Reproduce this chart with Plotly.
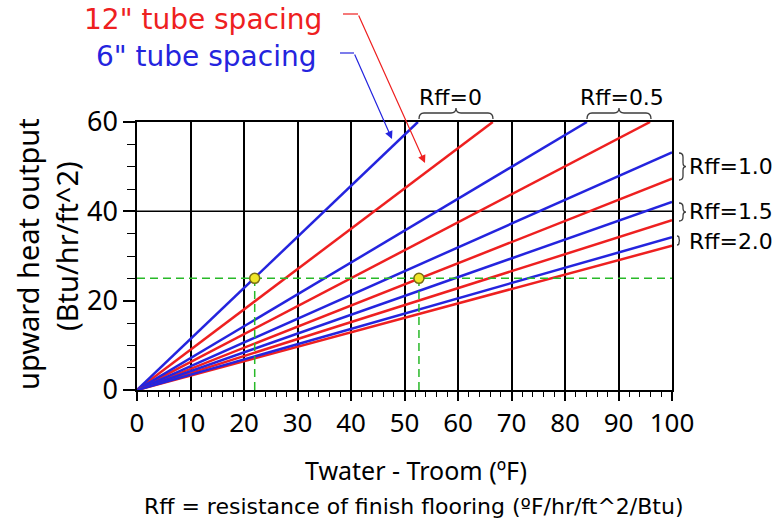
import plotly.graph_objects as go

# ---------------- data ----------------
rff_labels = ["0", "0.5", "1.0", "1.5", "2.0"]
# 6" tube spacing (blue): dT (F) and upward heat output (Btu/hr/ft^2)
dT_6in = [[0, 52.5], [0, 84.1], [0, 100], [0, 100], [0, 100]]
q_6in = [[0, 60], [0, 60], [0, 53.2], [0, 42.1], [0, 34.2]]
# 12" tube spacing (red)
dT_12in = [[0, 66.5], [0, 95.9], [0, 100], [0, 100], [0, 100]]
q_12in = [[0, 60], [0, 60], [0, 47.3], [0, 38.0], [0, 32.3]]
# worked examples (yellow dots)
ex_dT = [22, 52.7]
ex_q = [25, 25]
x_ticks = [0, 10, 20, 30, 40, 50, 60, 70, 80, 90, 100]
y_ticks = [0, 20, 40, 60]

# ---------------- style ----------------
FONT = "Noto Sans"
FONT2 = "DejaVu Sans"
RED = "rgb(238,32,32)"
BLUE = "rgb(36,36,222)"
GREEN = "rgb(40,185,40)"
L, R, T, B = 137, 100, 122, 134
W, H = 772, 524
PW, PH = W - L - R, H - T - B


def pp(xp, yp):
    """pixel -> paper"""
    return (xp - L) / PW, (H - B - yp) / PH


fig = go.Figure()

for i in range(len(rff_labels)):
    fig.add_trace(go.Scatter(x=dT_12in[i], y=q_12in[i], mode="lines",
                             line=dict(color=RED, width=2.5),
                             name='12" Rff=' + rff_labels[i], showlegend=False,
                             hoverinfo="skip"))
    fig.add_trace(go.Scatter(x=dT_6in[i], y=q_6in[i], mode="lines",
                             line=dict(color=BLUE, width=2.5),
                             name='6" Rff=' + rff_labels[i], showlegend=False,
                             hoverinfo="skip"))

# green dashed guides
fig.add_trace(go.Scatter(x=[x_ticks[0], x_ticks[-1]], y=[ex_q[0], ex_q[0]], mode="lines",
                         line=dict(color=GREEN, width=1.5, dash="8px,5px"),
                         showlegend=False, hoverinfo="skip"))
for xv, yv in zip(ex_dT, ex_q):
    fig.add_trace(go.Scatter(x=[xv, xv], y=[0, yv], mode="lines",
                             line=dict(color=GREEN, width=1.5, dash="8px,5px"),
                             showlegend=False, hoverinfo="skip"))
fig.add_trace(go.Scatter(x=ex_dT, y=ex_q, mode="markers",
                         marker=dict(color="rgb(240,230,40)", size=10,
                                     line=dict(color="rgb(120,110,20)", width=1.5)),
                         showlegend=False, hoverinfo="skip"))

shapes = []
# horizontal line at 40
shapes.append(dict(type="line", xref="paper", yref="y", x0=0, x1=1, y0=40, y1=40,
                   line=dict(color="black", width=1.5), layer="below"))


def hbrace(x1, x2, yb, h=6, tip=5, r=5):
    xa, yA = pp(x1, yb)
    xb, _ = pp(x2, yb)
    _, yt = pp(0, yb - h)
    _, ytp = pp(0, yb - h - tip)
    xm = (xa + xb) / 2
    rr = r / PW
    p = (f"M {xa},{yA} Q {xa},{yt} {xa+rr},{yt} L {xm-rr},{yt} "
         f"Q {xm},{yt} {xm},{ytp} Q {xm},{yt} {xm+rr},{yt} "
         f"L {xb-rr},{yt} Q {xb},{yt} {xb},{yA}")
    return dict(type="path", xref="paper", yref="paper", path=p,
                line=dict(color="rgb(60,60,60)", width=1.3))


def vbrace(xl, y1, y2, w=4, tip=3, r=4):
    xa, ya = pp(xl, y1)
    _, yb = pp(xl, y2)
    xw, _ = pp(xl + w, 0)
    xt, _ = pp(xl + w + tip, 0)
    ym = (ya + yb) / 2
    rr = r / PH
    p = (f"M {xa},{ya} Q {xw},{ya} {xw},{ya-rr} L {xw},{ym+rr} "
         f"Q {xw},{ym} {xt},{ym} Q {xw},{ym} {xw},{ym-rr} "
         f"L {xw},{yb+rr} Q {xw},{yb} {xa},{yb}")
    return dict(type="path", xref="paper", yref="paper", path=p,
                line=dict(color="rgb(60,60,60)", width=1.3))


shapes.append(hbrace(419, 493, 119))
shapes.append(hbrace(587, 651, 119))
shapes.append(vbrace(679, 153, 180))
shapes.append(vbrace(679, 203, 221))
shapes.append(vbrace(677, 236, 245, w=2, tip=1, r=2))

# horizontal lead-in segments of the callout arrows
for (x0, x1, y0, col) in [(343, 358, 14, RED), (340, 354, 53, BLUE)]:
    a, b = pp(x0, y0)
    c, _ = pp(x1, y0)
    shapes.append(dict(type="line", xref="paper", yref="paper", x0=a, x1=c, y0=b, y1=b,
                       line=dict(color=col, width=1.2)))

annotations = []


def txt(text, xp, yp, size, color="black", xanchor="center", angle=0, family=FONT):
    x, y = pp(xp, yp)
    annotations.append(dict(text=text, x=x, y=y, xref="paper", yref="paper",
                            xanchor=xanchor, yanchor="middle", showarrow=False,
                            textangle=angle,
                            font=dict(family=family, size=size, color=color)))


txt('12" tube spacing', 203, 19, 28, RED, family=FONT2)
txt('6" tube spacing', 206, 57, 28, BLUE, family=FONT2)
txt("Rff=0", 450, 98, 22, family=FONT2)
txt("Rff=0.5", 622, 98, 22, family=FONT2)
txt("Rff=1.0", 687, 166, 22, xanchor="left", family=FONT2)
txt("Rff=1.5", 687, 211, 22, xanchor="left", family=FONT2)
txt("Rff=2.0", 687, 241, 22, xanchor="left", family=FONT2)
txt("upward heat output", 27, 254, 29, angle=-90)
txt("(Btu/hr/ft^2)", 66, 246, 29, angle=-90)
txt("Twater - Troom (ºF)", 416, 470, 25)
txt("Rff = resistance of finish flooring (ºF/hr/ft^2/Btu)", 414, 506, 22, family=FONT2)

# callout arrows
for (tipx, tipy, tailx, taily, col) in [(425, 163, 358, 14, RED), (392, 139, 354, 53, BLUE)]:
    x, y = pp(tipx, tipy)
    annotations.append(dict(text="", x=x, y=y, xref="paper", yref="paper",
                            ax=tailx - tipx, ay=taily - tipy, axref="pixel", ayref="pixel",
                            showarrow=True, arrowhead=2, arrowsize=1.3, arrowwidth=1.2,
                            arrowcolor=col, standoff=0, startstandoff=0))

fig.update_layout(
    width=W, height=H,
    margin=dict(l=L, r=R, t=T, b=B, pad=0),
    paper_bgcolor="white", plot_bgcolor="white",
    shapes=shapes, annotations=annotations,
    font=dict(family=FONT, color="black"),
    xaxis=dict(range=[0, 100], tickvals=x_ticks, ticks="outside", ticklen=9,
               tickwidth=1.5, tickcolor="black",
               showgrid=True, gridcolor="black", gridwidth=1.5,
               showline=True, linecolor="black", linewidth=1.5, mirror=True,
               zeroline=False, tickfont=dict(family=FONT, size=26, color="black"),
               minor=dict(dtick=2, ticks="outside", ticklen=5, tickwidth=1.3,
                          tickcolor="black", showgrid=False),
               fixedrange=True),
    yaxis=dict(range=[0, 60], tickvals=y_ticks, ticks="outside", ticklen=12,
               tickwidth=1.5, tickcolor="black", showgrid=False,
               showline=True, linecolor="black", linewidth=1.5, mirror=True,
               zeroline=False, tickfont=dict(family=FONT, size=27, color="black"),
               minor=dict(dtick=5, ticks="outside", ticklen=8, tickwidth=1.3,
                          tickcolor="black", showgrid=False),
               fixedrange=True),
)

fig.write_html("out.html")
